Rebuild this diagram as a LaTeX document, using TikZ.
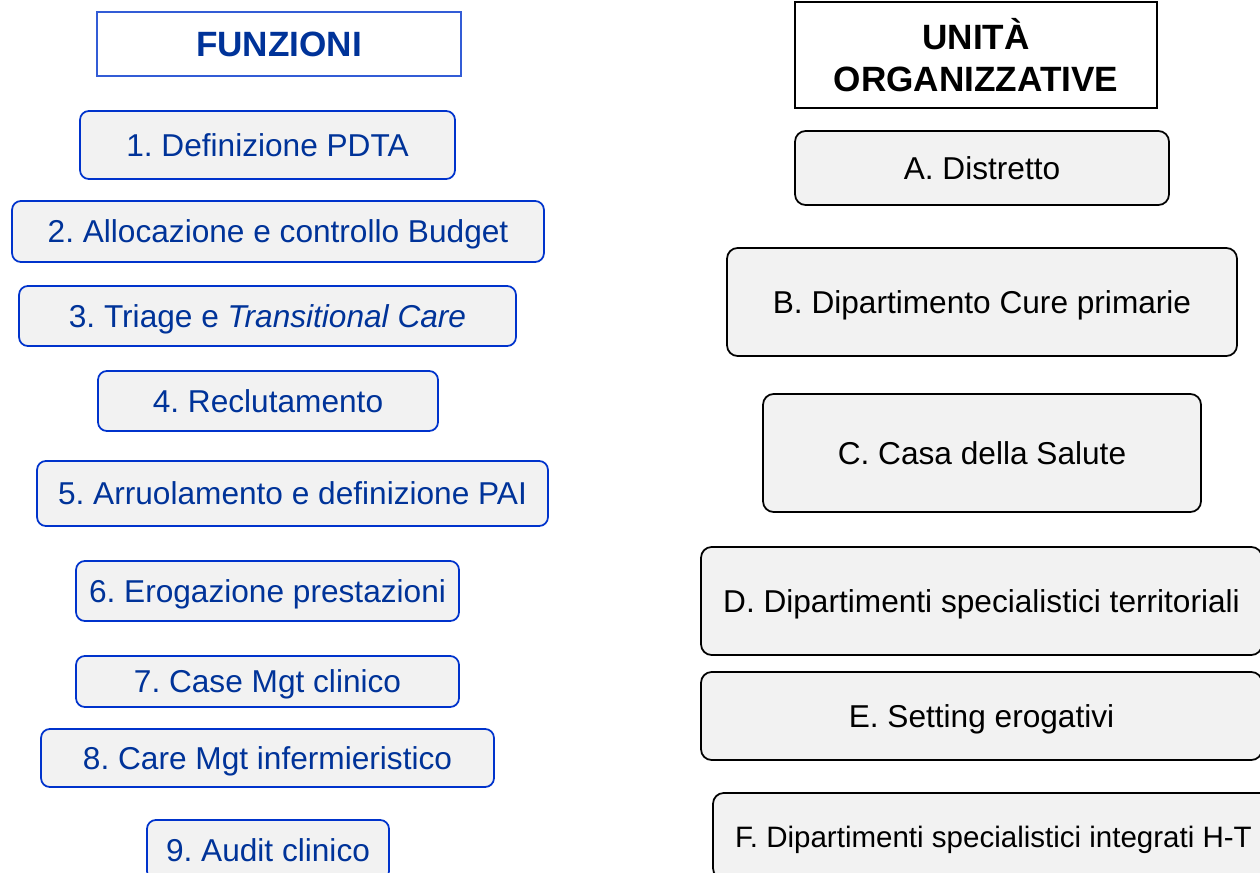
\documentclass[tikz,border=0pt]{standalone}
\usepackage{fontspec}
\setmainfont{Liberation Sans}
\frenchspacing
\usetikzlibrary{positioning}

\definecolor{funcblue}{RGB}{0,51,204}
\definecolor{functext}{RGB}{0,51,153}
\definecolor{boxgray}{RGB}{242,242,242}

\begin{document}
\begin{tikzpicture}[
    x=0.02cm, y=-0.02cm,
    every node/.style={font=\fontsize{18}{21.6}\selectfont},
    funcbox/.style={
        rectangle,
        draw=funcblue,
        fill=boxgray,
        text=functext,
        minimum height=1.2cm,
        text height=13pt,
        text depth=0.4pt,
        align=center,
        line width=1pt,
        rounded corners=5pt
    },
    unitbox/.style={
        rectangle,
        draw=black,
        fill=boxgray,
        text=black,
        text height=13pt,
        text depth=0.4pt,
        align=center,
        line width=1pt,
        rounded corners=6pt
    },
    header/.style={
        rectangle,
        fill=white,
        align=center,
        line width=1pt,
        font=\fontsize{20}{24}\selectfont\bfseries
    }
]

\useasboundingbox (0,0) rectangle (1260,872);
\clip (0,0) rectangle (1260,872);

% Funzioni
\node[header, draw=funcblue!80, text=functext, minimum width=7.28cm, minimum height=1.28cm] (ftitle) at (279,44) {FUNZIONI};
\node[funcbox, minimum width=7.5cm, minimum height=1.36cm] (pdta) at (267.5,145) {1. Definizione PDTA};
\node[funcbox, minimum width=10.64cm, minimum height=1.22cm] (budget) at (278,231.5) {2. Allocazione e controllo Budget};
\node[funcbox, minimum width=9.94cm] (triage) at (267.5,316) {3. Triage e \textit{Transitional Care}};
\node[funcbox, minimum width=6.8cm] (reclut) at (268,401) {4. Reclutamento};
\node[funcbox, minimum width=10.22cm, minimum height=1.3cm] (arruol) at (292.5,493.5) {5. Arruolamento e definizione PAI};
\node[funcbox, minimum width=7.66cm] (erog) at (267.5,591) {6. Erogazione prestazioni};
\node[funcbox, minimum width=7.66cm, minimum height=1.02cm] (casemgt) at (267.5,681.5) {7. Case Mgt clinico};
\node[funcbox, minimum width=9.06cm, minimum height=1.16cm] (caremgt) at (267.5,758) {8. Care Mgt infermieristico};
\node[funcbox, minimum width=4.84cm] (audit) at (268,850) {9. Audit clinico};

% Unita organizzative
\node[header, draw=black, text=black, minimum width=7.24cm, minimum height=2.12cm] (utitle) at (976,55) {UNITÀ\\ORGANIZZATIVE};
\node[unitbox, minimum width=7.48cm, minimum height=1.48cm] (distr) at (982,168) {A. Distretto};
\node[unitbox, minimum width=10.2cm, minimum height=2.16cm] (dcp) at (982,302) {B. Dipartimento Cure primarie};
\node[unitbox, minimum width=8.76cm, minimum height=2.36cm] (casa) at (982,453) {C. Casa della Salute};
\node[unitbox, minimum width=11.22cm, minimum height=2.16cm] (dst) at (981.5,601) {D. Dipartimenti specialistici territoriali};
\node[unitbox, minimum width=11.22cm, minimum height=1.76cm] (setting) at (981.5,716) {E. Setting erogativi};
\node[unitbox, minimum width=11.22cm, minimum height=1.72cm, font=\fontsize{16.8}{20}\selectfont] (dsi) at (993.5,836) {F. Dipartimenti specialistici integrati H-T};

\end{tikzpicture}
\end{document}
